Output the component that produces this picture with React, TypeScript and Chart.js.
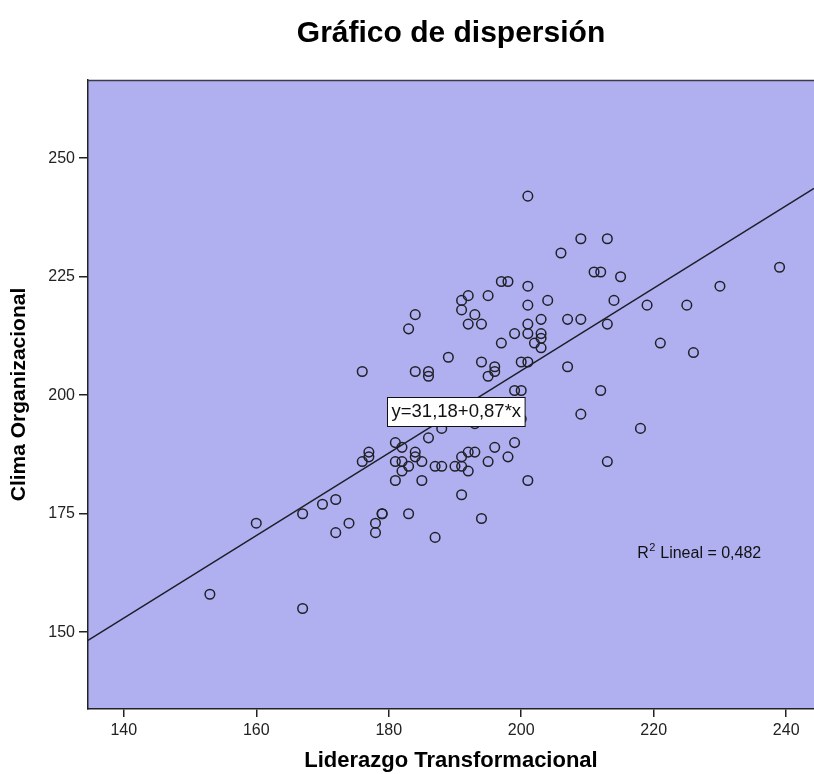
import React, { useEffect, useRef } from "react";
import { Chart, registerables } from "chart.js";

Chart.register(...registerables);

// Liderazgo Transformacional (x) and Clima Organizacional (y), one entry per respondent
const liderazgo = [
  201, 209, 213, 206, 211, 212, 215, 239, 197, 198,
  201, 230, 195, 192, 191, 204, 201, 214, 219, 225,
  191, 193, 184, 183, 192, 194, 201, 203, 207, 209,
  213, 199, 201, 203, 203, 202, 203, 197, 189, 194,
  196, 196, 195, 200, 201, 207, 221, 226, 176, 184,
  186, 186, 199, 200, 212, 209, 200, 188, 193, 181,
  186, 199, 218, 182, 177, 177, 176, 184, 184, 185,
  181, 182, 183, 182, 181, 185, 187, 188, 190, 191,
  191, 192, 193, 192, 196, 195, 198, 201, 213, 191,
  194, 187, 183, 179, 179, 178, 178, 174, 172, 172,
  170, 167, 160, 153, 167,
];
const clima = [
  242, 233, 233, 230, 226, 226, 225, 227, 224, 224,
  223, 223, 221, 221, 220, 220, 219, 220, 219, 219,
  218, 217, 217, 214, 215, 215, 215, 216, 216, 216,
  215, 213, 213, 213, 212, 211, 210, 211, 208, 207,
  206, 205, 204, 207, 207, 206, 211, 209, 205, 205,
  205, 204, 201, 201, 201, 196, 195, 193, 194, 190,
  191, 190, 193, 189, 188, 187, 186, 188, 187, 186,
  186, 186, 185, 184, 182, 182, 185, 185, 185, 185,
  187, 188, 188, 184, 189, 186, 187, 182, 186, 179,
  174, 170, 175, 175, 175, 173, 171, 173, 171, 178,
  177, 175, 173, 158, 155,
];

// Linear fit coefficients and goodness of fit
const intercept = 31.18;
const slope = 0.87;
const rSquared = "0,482";
const equationText = "y=31,18+0,87*x";

const xTicks = [140, 160, 180, 200, 220, 240];
const yTicks = [150, 175, 200, 225, 250];
const xRange = [134.6, 244.2];
const yRange = [133.8, 266.5];

const titleText = "Gráfico de dispersión";
const xTitle = "Liderazgo Transformacional";
const yTitle = "Clima Organizacional";

const FONT = "'Liberation Sans', Arial, Helvetica, sans-serif";

const decorations = {
  id: "decorations",
  beforeDraw(chart: any) {
    const { ctx, chartArea: a } = chart;
    ctx.save();
    ctx.fillStyle = "#b0b0f0";
    ctx.fillRect(a.left, a.top, a.right - a.left, a.bottom - a.top);
    ctx.restore();
  },
  afterDatasetsDraw(chart: any) {
    const { ctx, chartArea: a, scales } = chart;
    const xs = scales.x;
    const ys = scales.y;
    ctx.save();
    // top frame line
    ctx.strokeStyle = "#3a3a4a";
    ctx.lineWidth = 1.5;
    ctx.beginPath();
    ctx.moveTo(a.left, a.top + 0.5);
    ctx.lineTo(a.right, a.top + 0.5);
    ctx.stroke();

    // equation label box
    ctx.font = `18.5px ${FONT}`;
    const tw = ctx.measureText(equationText).width;
    const cx = xs.getPixelForValue(190.05);
    const cy = ys.getPixelForValue(196.6);
    const bw = tw + 8;
    const bh = 29;
    const bx = Math.round(cx - bw / 2) + 0.5;
    const by = Math.round(cy - bh / 2) + 0.5;
    ctx.fillStyle = "#ffffff";
    ctx.fillRect(bx, by, bw, bh);
    ctx.strokeStyle = "#111";
    ctx.lineWidth = 1;
    ctx.strokeRect(bx, by, bw, bh);
    ctx.fillStyle = "#111";
    ctx.textBaseline = "middle";
    ctx.textAlign = "left";
    ctx.fillText(equationText, bx + 4, cy + 1);

    // R squared note
    const rx = xs.getPixelForValue(217.5);
    const ry = ys.getPixelForValue(165.6);
    ctx.textBaseline = "alphabetic";
    ctx.font = `16px ${FONT}`;
    ctx.fillText("R", rx, ry);
    const w1 = ctx.measureText("R").width;
    ctx.font = `11px ${FONT}`;
    ctx.fillText("2", rx + w1 + 0.5, ry - 7);
    const w2 = ctx.measureText("2").width;
    ctx.font = `16px ${FONT}`;
    ctx.fillText(` Lineal = ${rSquared}`, rx + w1 + w2 + 1, ry);

    ctx.restore();
  },
  afterDraw(chart: any) {
    const { ctx, chartArea: a } = chart;
    ctx.save();
    ctx.font = `bold 30px ${FONT}`;
    ctx.fillStyle = "#000";
    ctx.textAlign = "center";
    ctx.textBaseline = "middle";
    ctx.fillText(titleText, (a.left + a.right) / 2, 34);
    ctx.restore();
  },
};

export default function App() {
  const canvasRef = useRef<HTMLCanvasElement | null>(null);

  useEffect(() => {
    const canvas = canvasRef.current;
    if (!canvas) return;

    const points = liderazgo.map((x, i) => ({ x, y: clima[i] }));
    const fitLine = xRange.map((x) => ({ x, y: intercept + slope * x }));

    const chart = new Chart(canvas, {
      type: "scatter",
      data: {
        datasets: [
          {
            label: "fit",
            data: fitLine,
            showLine: true,
            borderColor: "#1e1e28",
            borderWidth: 1.4,
            pointRadius: 0,
            fill: false,
          } as any,
          {
            label: "obs",
            data: points,
            pointStyle: "circle",
            pointRadius: 4.8,
            pointBorderWidth: 1.5,
            pointBorderColor: "#202028",
            pointBackgroundColor: "rgba(0,0,0,0)",
            borderColor: "#202028",
            backgroundColor: "rgba(0,0,0,0)",
          } as any,
        ],
      },
      options: {
        animation: false,
        responsive: false,
        maintainAspectRatio: false,
        layout: { autoPadding: false, padding: { top: 80, right: 0, left: 0, bottom: 0 } },
        plugins: {
          legend: { display: false },
          tooltip: { enabled: false },
          title: { display: false },
        },
        scales: {
          x: {
            type: "linear",
            min: xRange[0],
            max: xRange[1],
            afterBuildTicks: (s: any) => {
              s.ticks = xTicks.map((v) => ({ value: v }));
            },
            afterFit: (s: any) => {
              s.height = 65;
            },
            grid: {
              drawOnChartArea: false,
              drawTicks: true,
              tickLength: 8,
              color: "#222",
              lineWidth: 1.5,
            },
            border: { display: true, color: "#222", width: 1.5 },
            ticks: {
              color: "#222",
              padding: 4,
              font: { family: FONT, size: 16 },
              maxRotation: 0,
              callback: (v: any) => String(v),
            },
            title: {
              display: true,
              text: xTitle,
              color: "#000",
              font: { family: FONT, size: 22, weight: "bold" },
              padding: { top: 0, bottom: 0 },
            },
          },
          y: {
            type: "linear",
            min: yRange[0],
            max: yRange[1],
            afterBuildTicks: (s: any) => {
              s.ticks = yTicks.map((v) => ({ value: v }));
            },
            afterFit: (s: any) => {
              s.width = 88;
            },
            grid: {
              drawOnChartArea: false,
              drawTicks: true,
              tickLength: 9,
              color: "#222",
              lineWidth: 1.5,
            },
            border: { display: true, color: "#222", width: 1.5 },
            ticks: {
              color: "#222",
              padding: 4,
              font: { family: FONT, size: 16 },
              callback: (v: any) => String(v),
            },
            title: {
              display: true,
              text: yTitle,
              color: "#000",
              font: { family: FONT, size: 21, weight: "bold" },
              padding: { top: 7, bottom: 0 },
            },
          },
        },
      },
      plugins: [decorations],
    });

    return () => chart.destroy();
  }, []);

  return (
    <div style={{ position: "absolute", left: 0, top: 0, width: 814, height: 774, background: "#fff" }}>
      <canvas ref={canvasRef} width={814} height={774} style={{ display: "block", width: 814, height: 774 }} />
    </div>
  );
}
